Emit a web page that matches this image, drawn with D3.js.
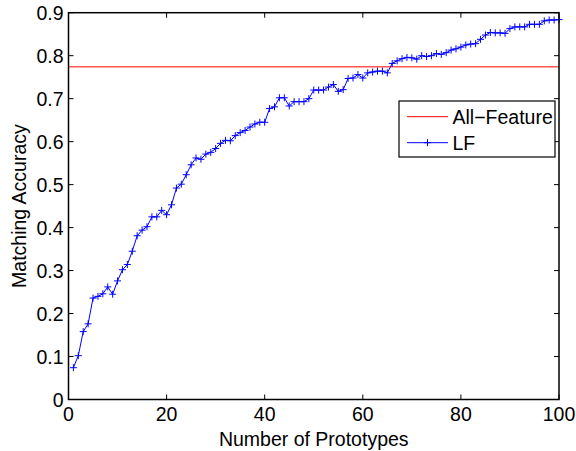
<!DOCTYPE html>
<html><head><meta charset="utf-8">
<script src="https://cdn.jsdelivr.net/npm/d3@7"></script>
<style>body{margin:0;background:#fff}svg{display:block}text{font-family:"Liberation Sans",Arial,Helvetica,sans-serif}</style>
</head><body><svg id="c" width="576" height="451"></svg>
<script>
const xTicks = [0,20,40,60,80,100];
const yTicks = [0,0.1,0.2,0.3,0.4,0.5,0.6,0.7,0.8,0.9];
const yTickLabels = ["0","0.1","0.2","0.3","0.4","0.5","0.6","0.7","0.8","0.9"];
const allFeature = 0.774;
const lfX = d3.range(1,101);
const lfY = [0.074,0.102,0.158,0.176,0.236,0.240,0.246,0.262,0.245,0.276,
0.302,0.314,0.345,0.381,0.394,0.402,0.425,0.425,0.440,0.430,
0.453,0.492,0.501,0.523,0.546,0.562,0.559,0.571,0.575,0.584,
0.596,0.603,0.602,0.614,0.621,0.626,0.634,0.641,0.645,0.645,
0.677,0.681,0.702,0.702,0.683,0.693,0.693,0.693,0.700,0.720,
0.720,0.720,0.727,0.733,0.717,0.721,0.747,0.748,0.756,0.748,
0.760,0.762,0.764,0.764,0.760,0.782,0.788,0.793,0.796,0.795,
0.792,0.800,0.798,0.800,0.805,0.803,0.807,0.813,0.816,0.820,
0.825,0.827,0.828,0.838,0.848,0.854,0.853,0.853,0.852,0.863,
0.867,0.867,0.867,0.873,0.873,0.873,0.881,0.883,0.883,0.884];
const seriesNames = ["All\u2212Feature","LF"];

const svg = d3.select("#c");
const L=68.5, R=559, T=12.7, B=399.5;
const x = d3.scaleLinear().domain([0,100]).range([L,R]);
const y = d3.scaleLinear().domain([0,0.9]).range([B,T]);
const fs = 19.5;

const tl = 5;
const g = svg.append("g");
xTicks.forEach(t=>{
  g.append("line").attr("x1",x(t)).attr("x2",x(t)).attr("y1",B).attr("y2",B-tl).attr("stroke","#000");
  g.append("line").attr("x1",x(t)).attr("x2",x(t)).attr("y1",T).attr("y2",T+tl).attr("stroke","#000");
  g.append("text").attr("x",x(t)).attr("y",B+21.5).attr("text-anchor","middle").attr("font-size",fs).text(t);
});
yTicks.forEach((t,i)=>{
  g.append("line").attr("x1",L).attr("x2",L+tl).attr("y1",y(t)).attr("y2",y(t)).attr("stroke","#000");
  g.append("line").attr("x1",R).attr("x2",R-tl).attr("y1",y(t)).attr("y2",y(t)).attr("stroke","#000");
  g.append("text").attr("x",L-5).attr("y",y(t)+7).attr("text-anchor","end").attr("font-size",fs).text(yTickLabels[i]);
});

svg.append("line").attr("x1",x(0)).attr("x2",x(100)).attr("y1",y(allFeature)).attr("y2",y(allFeature))
  .attr("stroke","#ff0000").attr("stroke-width",1);

const pts = lfX.map((v,i)=>[v,lfY[i]]);
svg.append("path").datum(pts).attr("fill","none").attr("stroke","#0000ff").attr("stroke-width",1)
  .attr("d",d3.line().x(d=>x(d[0])).y(d=>y(d[1])));
const m=3.5;
svg.append("g").selectAll("path").data(pts).join("path")
  .attr("d",d=>`M${x(d[0])-m},${y(d[1])}h${2*m}M${x(d[0])},${y(d[1])-m}v${2*m}`)
  .attr("stroke","#0000ff").attr("stroke-width",1).attr("fill","none");

svg.append("rect").attr("x",L).attr("y",T).attr("width",R-L).attr("height",B-T)
  .attr("fill","none").attr("stroke","#000").attr("stroke-width",1.5);

svg.append("text").attr("x",(L+R)/2).attr("y",446).attr("text-anchor","middle").attr("font-size",fs).text("Number of Prototypes");
svg.append("text").attr("transform",`translate(26,${(T+B)/2}) rotate(-90)`).attr("text-anchor","middle").attr("font-size",fs).text("Matching Accuracy");

const lg = svg.append("g");
lg.append("rect").attr("x",399).attr("y",101).attr("width",156).attr("height",56).attr("fill","#fff").attr("stroke","#000").attr("stroke-width",1.2);
lg.append("line").attr("x1",407).attr("x2",448).attr("y1",116.7).attr("y2",116.7).attr("stroke","#ff0000");
lg.append("line").attr("x1",407).attr("x2",448).attr("y1",142.7).attr("y2",142.7).attr("stroke","#0000ff");
lg.append("path").attr("d",`M${427.5-m},142.7h${2*m}M427.5,${142.7-m}v${2*m}`).attr("stroke","#0000ff");
lg.append("text").attr("x",452.5).attr("y",116.7+7).attr("font-size",fs).text(seriesNames[0]);
lg.append("text").attr("x",452.5).attr("y",142.7+7).attr("font-size",fs).text(seriesNames[1]);
</script></body></html>
